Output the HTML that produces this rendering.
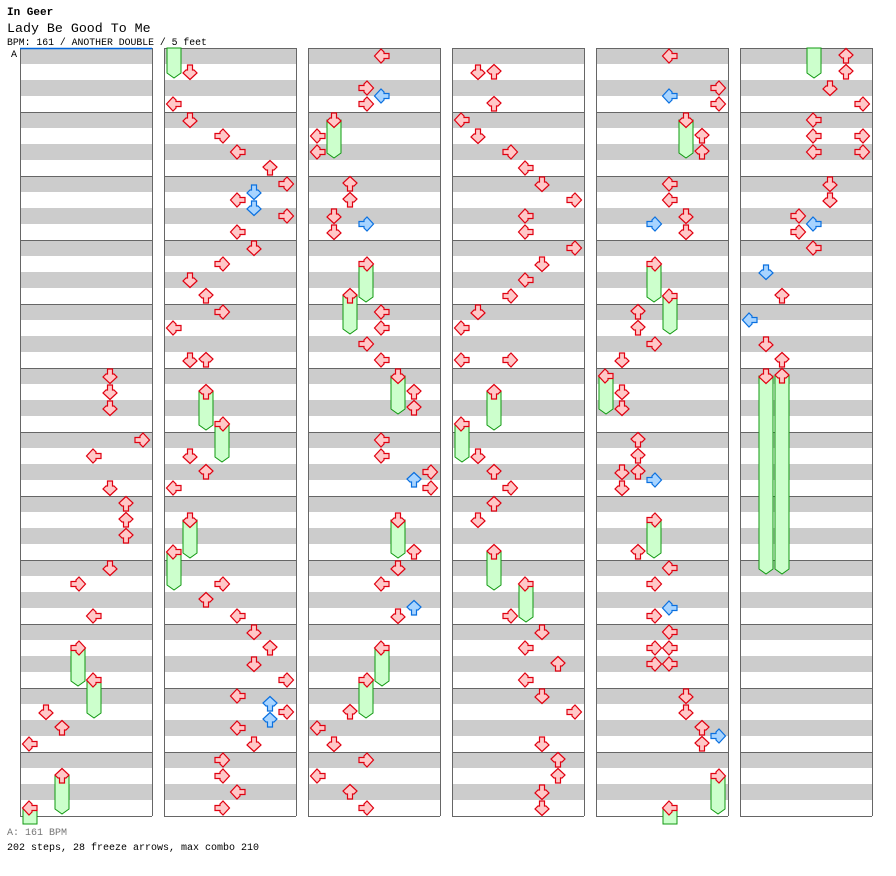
<!DOCTYPE html>
<html><head><meta charset="utf-8"><style>
body{margin:0;background:#fff;width:896px;height:876px;overflow:hidden;font-family:"Liberation Mono",monospace;}
svg{position:absolute;left:0;top:0}
</style></head><body>
<svg id="chart" width="896" height="876">
<text x="7" y="15" font-size="11" font-weight="bold" font-family="Liberation Mono, monospace">In Geer</text>
<text x="7" y="32" font-size="13.3" font-family="Liberation Mono, monospace">Lady Be Good To Me</text>
<text x="7" y="45" font-size="9.8" font-family="Liberation Mono, monospace">BPM: 161 / ANOTHER DOUBLE / 5 feet</text>
<text x="11" y="57" font-size="10" font-family="Liberation Mono, monospace">A</text>
<text x="7" y="835" font-size="10" fill="#777" font-family="Liberation Mono, monospace">A: 161 BPM</text>
<text x="7" y="850" font-size="10" font-family="Liberation Mono, monospace">202 steps, 28 freeze arrows, max combo 210</text>
<g id="cols"></g><g id="bodies"></g><g id="heads"></g>
</svg>
<script>
// notes per column: [lane, beat]; freezes: [lane, beat, lengthBeats]
const col1Notes=[[5,20],[5,21],[5,22],[7,24],[4,25],[5,27],[6,28],[6,29],[6,30],[5,32],[3,33],[4,35],[1,41],[2,42],[0,43]];
const col1Freezes=[[3,37,2],[4,39,2],[2,45,2],[0,47,2]];
const col2Notes=[[1,1],[0,3],[1,4],[3,5],[4,6],[6,7],[7,8],[5,8.5],[4,9],[5,9.5],[7,10],[4,11],[5,12],[3,13],[1,14],[2,15],[3,16],[0,17],[1,19],[2,19],[1,25],[2,26],[0,27],[3,33],[2,34],[4,35],[5,36],[6,37],[5,38],[7,39],[4,40],[6,40.5],[7,41],[6,41.5],[4,42],[5,43],[3,44],[3,45],[4,46],[3,47]];
const col2Freezes=[[2,21,2],[3,23,2],[1,29,2],[0,31,2]];
const col3Notes=[[4,0],[3,2],[4,2.5],[3,3],[0,5],[0,6],[2,8],[2,9],[1,10],[3,10.5],[1,11],[4,16],[4,17],[3,18],[4,19],[6,21],[6,22],[4,24],[4,25],[7,26],[6,26.5],[7,27],[6,31],[5,32],[4,33],[6,34.5],[5,35],[2,41],[0,42],[1,43],[3,44],[0,45],[2,46],[3,47]];
const col3Freezes=[[1,4,2],[3,13,2],[2,15,2],[5,20,2],[5,29,2],[4,37,2],[3,39,2]];
const col4Notes=[[1,1],[2,1],[2,3],[0,4],[1,5],[3,6],[4,7],[5,8],[7,9],[4,10],[4,11],[7,12],[5,13],[4,14],[3,15],[1,16],[0,17],[0,19],[3,19],[1,25],[2,26],[3,27],[2,28],[1,29],[3,35],[5,36],[4,37],[6,38],[4,39],[5,40],[7,41],[5,43],[6,44],[6,45],[5,46],[5,47]];
const col4Freezes=[[2,21,2],[0,23,2],[2,31,2],[4,33,2]];
const col5Notes=[[4,0],[7,2],[4,2.5],[7,3],[6,5],[6,6],[4,8],[4,9],[5,10],[3,10.5],[5,11],[2,16],[2,17],[3,18],[1,19],[1,21],[1,22],[2,24],[2,25],[2,26],[3,26.5],[1,27],[1,26],[2,31],[4,32],[3,33],[4,34.5],[3,35],[4,36],[3,37],[4,37],[3,38],[4,38],[5,40],[5,41],[6,42],[7,42.5],[6,43]];
const col5Freezes=[[5,4,2],[3,13,2],[4,15,2],[0,20,2],[3,29,2],[7,45,2],[4,47,2]];
const col6Notes=[[6,0],[6,1],[5,2],[7,3],[4,4],[4,5],[4,6],[7,5],[7,6],[5,8],[5,9],[3,10],[4,10.5],[3,11],[4,12],[1,13.5],[2,15],[0,16.5],[1,18],[2,19]];
const col6Freezes=[[1,20,12],[2,20,12]];
const allNotes=[col1Notes,col2Notes,col3Notes,col4Notes,col5Notes,col6Notes];
const allFreezes=[col1Freezes,col2Freezes,col3Freezes,col4Freezes,col5Freezes,col6Freezes];
const NS="http://www.w3.org/2000/svg";
const TOP=48,BPX=16,BEATS=48,COLW=132;
const colX=c=>20+144*c;
const laneX=(c,l)=>colX(c)+10+16*l;
const beatY=b=>TOP+8+b*BPX;
const DIRS=[90,0,180,-90,90,0,180,-90];
function mk(tag,attrs,parent){const e=document.createElementNS(NS,tag);for(const k in attrs)e.setAttribute(k,attrs[k]);parent.appendChild(e);return e;}
const cols=document.getElementById('cols'),bodies=document.getElementById('bodies'),heads=document.getElementById('heads');
for(let c=0;c<6;c++){
  const g=mk('g',{},cols);
  
  
  for(let s=0;s<BEATS;s++){ if(s%2===0) mk('rect',{x:colX(c),y:TOP+s*BPX,width:COLW,height:BPX,fill:'#cccccc'},g); }
  for(let m=0;m<=12;m++) mk('line',{x1:colX(c),x2:colX(c)+COLW,y1:TOP+m*64+0.5,y2:TOP+m*64+0.5,stroke:'#666','stroke-width':1},g);
  mk('line',{x1:colX(c)+0.5,x2:colX(c)+0.5,y1:TOP,y2:TOP+768,stroke:'#666'},g);
  mk('line',{x1:colX(c)+COLW+0.5,x2:colX(c)+COLW+0.5,y1:TOP,y2:TOP+768,stroke:'#666'},g);
}
const bl=mk('line',{x1:20,x2:152,y1:48.5,y2:48.5,stroke:'#0066dd','stroke-width':1.5},cols);


function arrow(c,lane,beat){
  const blue=(beat%1)!==0;
  const x=laneX(c,lane),y=beatY(beat);
  const p=mk('polygon',{points:'-2.5,-7 2.5,-7 2.5,-2 4,-2 7,1 0,7.5 -7,1 -4,-2 -2.5,-2',
    transform:`translate(${x},${y}) rotate(${DIRS[lane]})`,
    fill:blue?'#a8d4ff':'#ffc8c8',stroke:blue?'#0a70e0':'#e00010','stroke-width':1.2},heads);
  
  
}
function freezeBody(c,lane,beat,len){
  let y0=beatY(beat),y1=y0+len*BPX+6;
  const bottom=TOP+768+8;
  const segs=[];
  if(y1<=bottom) segs.push([c,y0,y1,true]);
  else {segs.push([c,y0,bottom,false]); if(c<5) segs.push([c+1,TOP,y1-768,true]);}
  segs.forEach(([cc,a,b,tail])=>{
    const xx=laneX(cc,lane);
    const pts=tail?`${xx-7},${a} ${xx+7},${a} ${xx+7},${b-5} ${xx},${b} ${xx-7},${b-5}`:`${xx-7},${a} ${xx+7},${a} ${xx+7},${b} ${xx-7},${b}`;
    const r=mk('polygon',{points:pts,fill:'#ccffcc',stroke:'#119911','stroke-width':1},bodies);
    
    
  });
}
allFreezes.forEach((fz,c)=>fz.forEach(([l,b,len])=>{freezeBody(c,l,b,len);arrow(c,l,b);}));
allNotes.forEach((ns,c)=>ns.forEach(([l,b])=>arrow(c,l,b)));
</script>
</body></html>
